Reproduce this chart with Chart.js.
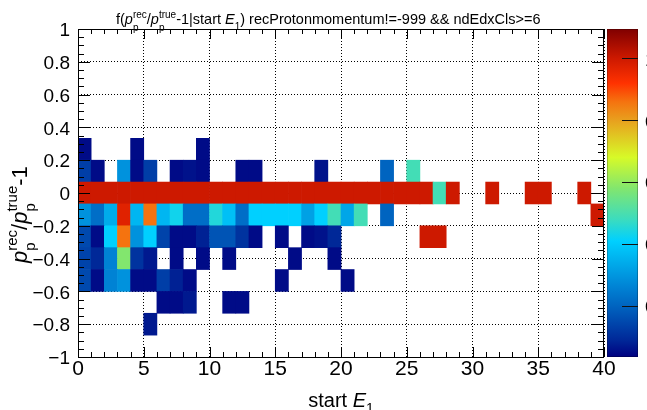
<!DOCTYPE html>
<html>
<head>
<meta charset="utf-8">
<script src="https://cdn.jsdelivr.net/npm/chart.js@4.4.0/dist/chart.umd.min.js"></script>
<style>
  html, body { margin: 0; padding: 0; background: #fff; }
  #wrap { position: relative; width: 647px; height: 410px; }
</style>
</head>
<body>
<div id="wrap"><canvas id="c"></canvas></div>
<script>
// binning of the 2D histogram (start E1 vs p_rec/p_true - 1)
const xMin = 0, xMax = 40, nBinsX = 40;
const yMin = -1, yMax = 1, nBinsY = 15;
const zMin = 0.035, zMax = 1.095;

// cell contents per y-bin, 40 x-bins each (0 = empty)
// y-bin k covers [-1 + k*2/15, -1 + (k+1)*2/15]
const zRow1 = [0,0,0,0,0,0.07,0,0,0,0, 0,0,0,0,0,0,0,0,0,0, 0,0,0,0,0,0,0,0,0,0, 0,0,0,0,0,0,0,0,0,0];
const zRow2 = [0,0,0,0,0,0,0.05,0.05,0.07,0, 0,0.05,0.05,0,0,0,0,0,0,0, 0,0,0,0,0,0,0,0,0,0, 0,0,0,0,0,0,0,0,0,0];
const zRow3 = [0.15,0.05,0.26,0.29,0.05,0.05,0.13,0.08,0.05,0, 0,0,0,0,0,0.05,0,0,0,0, 0.05,0,0,0,0,0,0,0,0,0, 0,0,0,0,0,0,0,0,0,0];
const zRow4 = [0.14,0.09,0.26,0.58,0.11,0.07,0,0.05,0,0.05, 0,0.05,0,0,0,0,0.05,0,0,0.05, 0,0,0,0,0,0,0,0,0,0, 0,0,0,0,0,0,0,0,0,0];
const zRow5 = [0.15,0.05,0.41,0.86,0.29,0.41,0.14,0.05,0.05,0.08, 0.17,0.17,0.11,0.05,0,0.05,0,0.05,0.06,0.09, 0,0,0,0,0,0,1,1,0,0, 0,0,0,0,0,0,0,0,0,0];
const zRow6 = [0.29,0.22,0.34,0.97,0.36,0.86,0.36,0.43,0.22,0.22, 0.45,0.38,0.22,0.41,0.41,0.41,0.41,0.32,0.41,0.49, 0.33,0.49,0,0.2,0,0,0,0,0,0, 0,0,0,0,0,0,0,0,0,1];
const zRow7 = [1,1,1,1,1,1,1,1,1,1, 1,1,1,1,1,1,1,1,1,1, 1,1,1,1,1,1,1,0.49,1,0, 0,1,0,0,1,1,0,0,1,0];
const zRow8 = [0.13,0.05,0,0.29,0.05,0.13,0,0.05,0.06,0.05, 0,0,0.05,0.05,0,0,0,0,0.06,0, 0,0,0,0.2,0,0.49,0,0,0,0, 0,0,0,0,0,0,0,0,0,0];
const zRow9 = [0.05,0,0,0,0.05,0,0,0,0,0.05, 0,0,0,0,0,0,0,0,0,0, 0,0,0,0,0,0,0,0,0,0, 0,0,0,0,0,0,0,0,0,0];

const rowBins = [1, 2, 3, 4, 5, 6, 7, 8, 9];
const rowValues = [zRow1, zRow2, zRow3, zRow4, zRow5, zRow6, zRow7, zRow8, zRow9];

// colour palette (value -> rgb)
const paletteValues = [0.035, 0.09, 0.20, 0.26, 0.41, 0.48, 0.58, 0.68, 0.80, 0.86, 0.92, 1.0, 1.095];
const paletteColors = [
  [0, 0, 128], [0, 40, 152], [0, 100, 192], [0, 130, 212], [0, 208, 255], [60, 220, 190],
  [130, 230, 110], [215, 250, 40], [232, 160, 30], [245, 115, 15], [255, 50, 0], [205, 25, 0], [128, 0, 0]
];

const zTicks = [0.2, 0.4, 0.6, 0.8, 1];

const FONT = '"Liberation Sans", Arial, Helvetica, sans-serif';

const zColor = (v) => {
  if (v <= paletteValues[0]) return `rgb(${paletteColors[0].join(',')})`;
  for (let i = 1; i < paletteValues.length; i++) {
    if (v <= paletteValues[i]) {
      const t = (v - paletteValues[i - 1]) / (paletteValues[i] - paletteValues[i - 1]);
      const a = paletteColors[i - 1], b = paletteColors[i];
      const c = a.map((x, j) => Math.round(x + (b[j] - x) * t));
      return `rgb(${c.join(',')})`;
    }
  }
  return `rgb(${paletteColors[paletteColors.length - 1].join(',')})`;
};

const binW = (xMax - xMin) / nBinsX;
const binH = (yMax - yMin) / nBinsY;

const datasets = rowValues.map((vals, r) => {
  const k = rowBins[r];
  const data = [];
  vals.forEach((v, i) => {
    if (v > 0) data.push({ x: xMin + (i + 0.5) * binW, y: [yMin + k * binH, yMin + (k + 1) * binH], v });
  });
  return {
    data,
    backgroundColor: (c) => (c.raw ? zColor(c.raw.v) : 'transparent'),
    borderWidth: 0,
    grouped: false,
    barPercentage: 1,
    categoryPercentage: 1
  };
});

// --- rich text (sub/superscripts) ---
const font = (size, italic) => `${italic ? 'italic ' : ''}${size}px ${FONT}`;
function drawRich(ctx, parts, x, y, draw = true) {
  let cx = x;
  for (const p of parts) {
    if (p.sup !== undefined || p.sub !== undefined) {
      ctx.font = font(p.size, false);
      const w1 = p.sup ? ctx.measureText(p.sup).width : 0;
      const w2 = p.sub ? ctx.measureText(p.sub).width : 0;
      if (draw) {
        if (p.sup) ctx.fillText(p.sup, cx, y + p.supDy);
        if (p.sub) ctx.fillText(p.sub, cx, y + p.subDy);
      }
      cx += Math.max(w1, w2);
    } else {
      ctx.font = font(p.size, p.italic);
      if (draw) ctx.fillText(p.text, cx, y);
      cx += ctx.measureText(p.text).width;
    }
  }
  return cx - x;
}

const titleParts = [
  { text: 'f(', size: 14.5 },
  { text: 'p', size: 14.5, italic: true },
  { sup: 'rec', sub: 'p', size: 10, supDy: -6, subDy: 6.5 },
  { text: '/', size: 14.5 },
  { text: 'p', size: 14.5, italic: true },
  { sup: 'true', sub: 'p', size: 10, supDy: -6, subDy: 6.5 },
  { text: '-1|start ', size: 14.5 },
  { text: 'E', size: 14.5, italic: true },
  { sub: '1', size: 10, subDy: 6 },
  { text: ') recProtonmomentum!=-999 && ndEdxCls>=6', size: 14.5 }
];

const xTitleParts = [
  { text: 'start ', size: 20 },
  { text: 'E', size: 20, italic: true },
  { sub: '1', size: 14, subDy: 6 }
];

const yTitleParts = [
  { text: 'p', size: 22, italic: true },
  { sup: 'rec', sub: 'p', size: 15, supDy: -10, subDy: 8 },
  { text: '/', size: 22 },
  { text: 'p', size: 22, italic: true },
  { sup: 'true', sub: 'p', size: 15, supDy: -10, subDy: 8 },
  { text: '-1', size: 22 }
];

const rootStyle = {
  id: 'rootStyle',
  afterDraw(chart) {
    const { ctx, chartArea: a } = chart;
    const xs = chart.scales.x, ys = chart.scales.y, zs = chart.scales.zAxis;
    ctx.save();
    ctx.strokeStyle = '#000';
    ctx.lineWidth = 1;

    // frame ticks on all four sides
    ctx.beginPath();
    for (let i = 0; i <= 40; i++) {
      const px = Math.round(xs.getPixelForValue(i)) + 0.5;
      const len = i % 5 === 0 ? 10 : 5;
      ctx.moveTo(px, a.bottom); ctx.lineTo(px, a.bottom - len);
      ctx.moveTo(px, a.top); ctx.lineTo(px, a.top + len);
    }
    for (let i = 0; i <= 40; i++) {
      const py = Math.round(ys.getPixelForValue(-1 + i * 0.05)) + 0.5;
      const len = i % 4 === 0 ? 12 : 6;
      ctx.moveTo(a.left, py); ctx.lineTo(a.left + len, py);
      ctx.moveTo(a.right, py); ctx.lineTo(a.right - len, py);
    }
    ctx.stroke();
    ctx.strokeRect(a.left + 0.5, a.top + 0.5, a.right - a.left - 1, a.bottom - a.top);

    // colour bar
    const bx0 = 607, bx1 = 638;
    const top = zs.getPixelForValue(zMax), bot = zs.getPixelForValue(zMin);
    const g = ctx.createLinearGradient(0, bot, 0, top);
    paletteValues.forEach((v, i) => g.addColorStop((v - zMin) / (zMax - zMin), `rgb(${paletteColors[i].join(',')})`));
    ctx.fillStyle = g;
    ctx.fillRect(bx0, top, bx1 - bx0, bot - top);
    ctx.strokeStyle = 'rgba(0,0,0,0.25)';
    ctx.strokeRect(bx0 + 0.5, top + 0.5, bx1 - bx0 - 1, bot - top - 1);
    ctx.strokeStyle = '#111';
    ctx.beginPath();
    zTicks.forEach(t => {
      const py = Math.round(zs.getPixelForValue(t)) + 0.5;
      ctx.moveTo(bx1 - 16, py); ctx.lineTo(bx1, py);
    });
    ctx.stroke();
    ctx.fillStyle = '#000';
    ctx.font = font(19, false);
    ctx.textAlign = 'left';
    ctx.textBaseline = 'middle';
    zTicks.forEach(t => ctx.fillText(String(t), 645, zs.getPixelForValue(t) + 2));

    // titles
    ctx.textBaseline = 'alphabetic';
    drawRich(ctx, titleParts, 116, 24);

    const wx = drawRich(ctx, xTitleParts, 0, 0, false);
    drawRich(ctx, xTitleParts, 341 - wx / 2, 407);

    ctx.translate(27, 263);
    ctx.rotate(-Math.PI / 2);
    drawRich(ctx, yTitleParts, 0, 0);
    ctx.restore();
  }
};

const yLabel = (v) => {
  const r = Math.round(v * 10) / 10;
  return r < 0 ? '\u2212' + Math.abs(r) : String(r);
};

new Chart(document.getElementById('c'), {
  type: 'bar',
  data: { datasets },
  options: {
    responsive: true,
    maintainAspectRatio: false,
    animation: false,
    layout: { padding: { left: 0, top: 29, right: 43, bottom: 0 } },
    plugins: { legend: { display: false }, title: { display: false }, tooltip: { enabled: false } },
    scales: {
      x: {
        type: 'linear', min: xMin, max: xMax, offset: false, z: 1,
        grid: { offset: false, color: '#000', lineWidth: 1, drawTicks: false },
        border: { display: false, dash: [1, 2] },
        ticks: { stepSize: 5, padding: 0, color: '#000', maxRotation: 0, font: { family: FONT, size: 21 }, callback: (v) => String(v) },
        afterFit: (s) => { s.height = 53; }
      },
      y: {
        type: 'linear', min: yMin, max: yMax, z: 1,
        grid: { color: '#000', lineWidth: 1, drawTicks: false },
        border: { display: false, dash: [1, 2] },
        ticks: { stepSize: 0.2, padding: 8, labelOffset: 2, color: '#000', font: { family: FONT, size: 19 }, callback: yLabel },
        afterFit: (s) => { s.width = 78; }
      },
      zAxis: { type: 'linear', axis: 'y', position: 'right', display: false, min: zMin, max: zMax }
    }
  },
  plugins: [rootStyle]
});
</script>
</body>
</html>
